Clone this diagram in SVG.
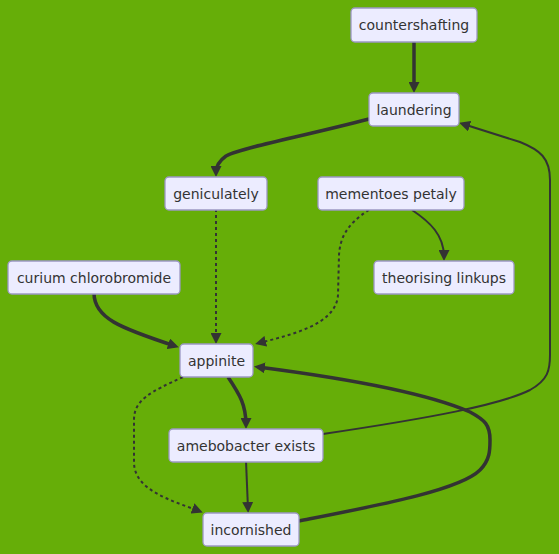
<svg xmlns="http://www.w3.org/2000/svg" width="559" height="554" viewBox="0 0 559 554">
<style>
.node rect{fill:#ECECFF;stroke:#9c98c4;stroke-width:1.3}
.node text{font-family:"DejaVu Sans",Verdana,sans-serif;font-size:14px;fill:#333;text-anchor:middle;dominant-baseline:central}
.e{fill:none;stroke:#333}
.thick{stroke-width:3.5}
.norm{stroke-width:2}
.dot{stroke-width:2;stroke-dasharray:3 3}
</style>
<defs>
<marker id="ah" viewBox="0 0 11 11" markerUnits="userSpaceOnUse" markerWidth="11" markerHeight="11" refX="7" refY="5.5" orient="auto">
<path d="M0,0 L11,5.5 L0,11 z" fill="#333"/>
</marker>
</defs>
<rect width="559" height="554" fill="#66AE08"/>
<g id="edges">
<path class="e thick" d="M414,42 L414,89" marker-end="url(#ah)"/>
<path class="e thick" d="M369,119 C300,137 240,148 226,156 Q216,163 216,173" marker-end="url(#ah)"/>
<path class="e dot" d="M216,209 L216,340" marker-end="url(#ah)"/>
<path class="e dot" d="M369,210 C345,225 340,240 339,255 L338,295 C336,325 290,335 259,343" marker-end="url(#ah)"/>
<path class="e norm" d="M412,210 C430,222 444,235 444,257" marker-end="url(#ah)"/>
<path class="e thick" d="M94,293 C94,318 120,328 175,346" marker-end="url(#ah)"/>
<path class="e thick" d="M228,377 C240,395 246,405 246,425" marker-end="url(#ah)"/>
<path class="e dot" d="M183,377 C150,392 134,400 134,420 L134,462 C134,490 170,500 199,511" marker-end="url(#ah)"/>
<path class="e norm" d="M246,461 L248,509" marker-end="url(#ah)"/>
<path class="e norm" d="M323,434 C430,418 500,405 530,390 C548,380 550,370 550,355 L550,180 C550,158 540,150 520,142 L463,124" marker-end="url(#ah)"/>
<path class="e thick" d="M299,521 C380,505 460,490 480,470 C490,460 490,450 490,440 C490,425 485,420 470,412 C420,390 320,375 258,367" marker-end="url(#ah)"/>
</g>
<g id="countershafting" class="node"><rect x="351" y="8" width="126" height="34" rx="4"/><text x="414" y="25">countershafting</text></g>
<g id="laundering" class="node"><rect x="369" y="93" width="90" height="33" rx="4"/><text x="414" y="109.5">laundering</text></g>
<g id="geniculately" class="node"><rect x="165" y="177" width="102" height="33" rx="4"/><text x="216" y="193.5">geniculately</text></g>
<g id="mementoes_petaly" class="node"><rect x="318" y="177" width="146" height="33" rx="4"/><text x="391" y="193.5">mementoes petaly</text></g>
<g id="theorising_linkups" class="node"><rect x="374" y="261" width="140" height="33" rx="4"/><text x="444" y="277.5">theorising linkups</text></g>
<g id="curium_chlorobromide" class="node"><rect x="8" y="261" width="172" height="33" rx="4"/><text x="94" y="277.5">curium chlorobromide</text></g>
<g id="appinite" class="node"><rect x="180" y="344" width="73" height="33" rx="4"/><text x="216.5" y="360.5">appinite</text></g>
<g id="amebobacter_exists" class="node"><rect x="169" y="429" width="154" height="33" rx="4"/><text x="246" y="445.5">amebobacter exists</text></g>
<g id="incornished" class="node"><rect x="203" y="513" width="96" height="33" rx="4"/><text x="251" y="529.5">incornished</text></g>
</svg>
